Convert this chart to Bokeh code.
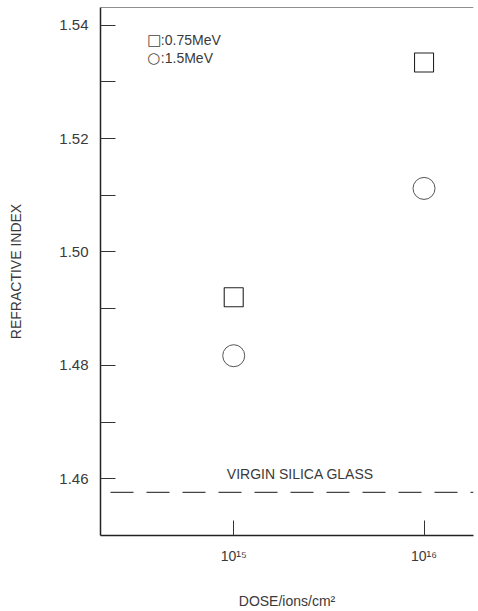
from bokeh.plotting import figure
from bokeh.models import (Range1d, FixedTicker, Span, Label)
from bokeh.embed import file_html
from bokeh.resources import INLINE

# Data
dose = [1e15, 1e16]
n_075MeV = [1.492, 1.5334]
n_15MeV = [1.4817, 1.5112]
virgin_n = 1.4576
y_ticks = [1.46, 1.48, 1.50, 1.52, 1.54]
y_minor = [1.47, 1.49, 1.51, 1.53]
x_ticks = [1e15, 1e16]
x_tick_labels = ["10¹⁵", "10¹⁶"]
legend_symbols = ["□", "○"]
legend_labels = [":0.75MeV", ":1.5MeV"]

FONT = "Liberation Sans"
TXT = "#3a3a3a"

p = figure(width=478, height=611, x_axis_type="log",
           x_range=Range1d(10**14.3, 10**16.26), y_range=Range1d(1.450, 1.5431),
           output_backend="svg", toolbar_location=None,
           min_border_left=100, min_border_right=5, min_border_top=7, min_border_bottom=71)
p.outline_line_color = None
p.xgrid.visible = False
p.ygrid.visible = False

# top border
p.add_layout(Span(location=p.y_range.end, dimension="width", line_color="#222", line_width=1.2))

# Axes
yax = p.yaxis[0]
yax.ticker = FixedTicker(ticks=y_ticks, minor_ticks=y_minor)
yax.major_tick_in = 15
yax.major_tick_out = 0
yax.minor_tick_in = 15
yax.minor_tick_out = 0
yax.axis_line_color = "#222"
yax.axis_line_width = 1.5
yax.major_tick_line_color = "#333"
yax.minor_tick_line_color = "#333"
yax.major_label_text_font = FONT
yax.major_label_text_font_size = "15px"
yax.major_label_text_color = TXT
yax.major_label_standoff = 12
yax.major_label_overrides = {t: ("1.%02d" % round((t - 1) * 100)) for t in y_ticks}
yax.axis_label = "REFRACTIVE INDEX"
yax.axis_label_text_font = FONT
yax.axis_label_text_font_size = "14px"
yax.axis_label_text_font_style = "normal"
yax.axis_label_text_color = TXT
yax.axis_label_standoff = 32

xax = p.xaxis[0]
xax.ticker = FixedTicker(ticks=x_ticks, minor_ticks=[])
xax.major_tick_in = 15
xax.major_tick_out = 0
xax.minor_tick_in = 0
xax.minor_tick_out = 0
xax.axis_line_color = "#222"
xax.axis_line_width = 1.5
xax.major_tick_line_color = "#333"
xax.major_label_text_font = FONT
xax.major_label_text_font_size = "14px"
xax.major_label_text_color = TXT
xax.major_label_standoff = 12
xax.major_label_overrides = {t: l for t, l in zip(x_ticks, x_tick_labels)}
xax.axis_label = "DOSE/ions/cm²"
xax.axis_label_text_font = FONT
xax.axis_label_text_font_size = "14px"
xax.axis_label_text_font_style = "normal"
xax.axis_label_text_color = TXT
xax.axis_label_standoff = 26

# Virgin silica glass reference line
p.add_layout(Span(location=virgin_n, dimension="width", line_color="#444",
                  line_width=1.4, line_dash="23 13", line_dash_offset=-10))
p.add_layout(Label(x=10**15.35, y=virgin_n, text="VIRGIN SILICA GLASS", text_align="center",
                   y_offset=10, text_font=FONT, text_font_size="14px", text_color=TXT))

# Data markers
p.scatter(dose, n_075MeV, marker="square", size=19, fill_color=None,
          line_color="#222", line_width=1.1)
p.scatter(dose, n_15MeV, marker="circle", size=22, fill_color=None,
          line_color="#555", line_width=1.0)

# Legend (symbol + text)
leg_y = [1.5374, 1.5342]
for sym, lab, yy in zip(legend_symbols, legend_labels, leg_y):
    p.add_layout(Label(x=10**14.545, y=yy, text=sym, text_baseline="middle",
                       text_font="DejaVu Sans", text_font_size="15px", text_color="#444"))
    p.add_layout(Label(x=10**14.617, y=yy, text=lab, text_baseline="middle",
                       text_font=FONT, text_font_size="14px", text_color=TXT))

open("out.html", "w").write(file_html(p, INLINE))
